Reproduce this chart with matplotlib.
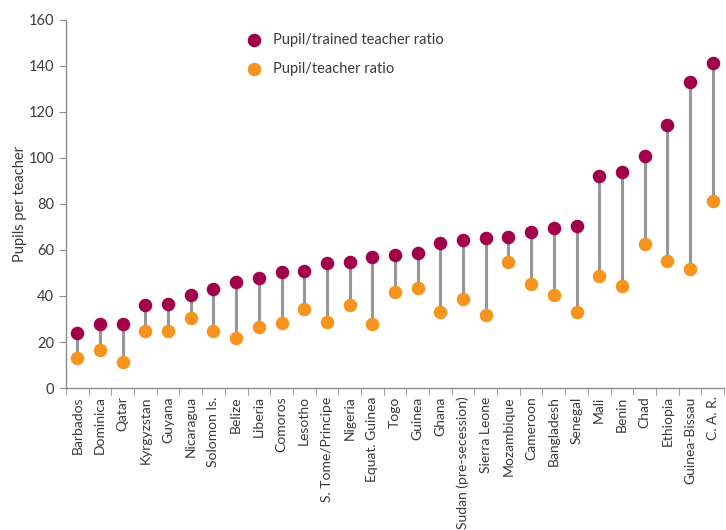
import numpy as np
import matplotlib
matplotlib.use("Agg")
import matplotlib.pyplot as plt

plt.rcParams["font.family"] = ["Lato", "DejaVu Sans"]

countries = ["Barbados", "Dominica", "Qatar", "Kyrgyzstan", "Guyana", "Nicaragua",
             "Solomon Is.", "Belize", "Liberia", "Comoros", "Lesotho",
             "S. Tome/Principe", "Nigeria", "Equat. Guinea", "Togo", "Guinea",
             "Ghana", "Sudan (pre-secession)", "Sierra Leone", "Mozambique",
             "Cameroon", "Bangladesh", "Senegal", "Mali", "Benin", "Chad",
             "Ethiopia", "Guinea-Bissau", "C. A. R."]
trained_ratio = [24, 28, 28, 36, 36.7, 40.6, 43, 46, 48, 50.3, 51, 54.3, 54.6, 57,
                 57.8, 58.5, 62.9, 64.3, 65.3, 65.7, 67.7, 69.4, 70.3, 92, 93.8,
                 100.7, 114.2, 133, 141.3]
teacher_ratio = [12.9, 16.4, 11.2, 24.8, 24.8, 30.3, 24.8, 21.6, 26.7, 28.1, 34.3,
                 28.5, 36.2, 27.8, 41.6, 43.6, 33, 38.7, 31.7, 54.8, 45.4, 40.4,
                 32.9, 48.7, 44.2, 62.7, 55.4, 51.7, 81.4]

c_trained = "#A3004A"
c_teacher = "#F7941D"
txt = "#3A3A3A"
axis_col = "#8C8C8C"

fig = plt.figure(figsize=(7.26, 5.30), dpi=100)
ax = fig.add_axes([66/726, 1 - 388/530, 658/726, 368/530])

x = np.arange(len(countries))
ax.vlines(x, teacher_ratio, trained_ratio, color="#969696", lw=2.2, zorder=1)
ax.scatter(x, trained_ratio, s=95, color=c_trained, zorder=3, linewidths=0,
           label="Pupil/trained teacher ratio")
ax.scatter(x, teacher_ratio, s=95, color=c_teacher, zorder=3, linewidths=0,
           label="Pupil/teacher ratio")

ax.set_xlim(-0.5, len(countries) - 0.5)
ax.set_ylim(0, 160)
ax.set_yticks(np.arange(0, 161, 20))
ax.set_xticks(x)
ax.set_xticklabels(countries, rotation=90, fontsize=10, color=txt)
ax.set_xticks(np.arange(-0.5, len(countries), 1), minor=True)
ax.tick_params(axis="x", which="major", length=0, pad=6)
ax.tick_params(axis="x", which="minor", length=5, color=axis_col, direction="out")
ax.tick_params(axis="y", length=5, color=axis_col, labelsize=10.5, labelcolor=txt)

for s in ["top", "right"]:
    ax.spines[s].set_visible(False)
for s in ["left", "bottom"]:
    ax.spines[s].set_color(axis_col)
    ax.spines[s].set_linewidth(1)

ax.set_ylabel("Pupils per teacher", fontsize=10.5, color=txt, labelpad=1)

leg = ax.legend(loc="upper left", bbox_to_anchor=(0.254, 0.98), frameon=False,
                fontsize=10.5, handletextpad=0.3, labelspacing=1.0,
                borderaxespad=0)
for t in leg.get_texts():
    t.set_color(txt)

fig.savefig("out.png", dpi=100)
